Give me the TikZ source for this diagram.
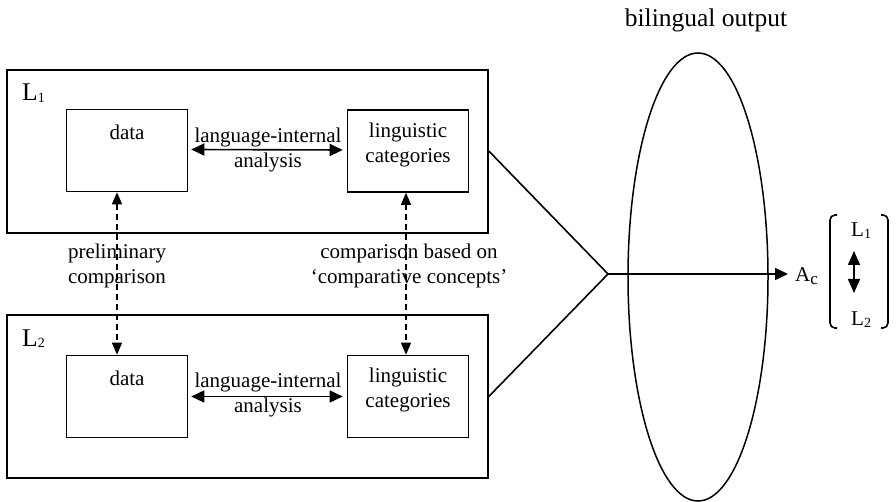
\documentclass[tikz,border=0pt]{standalone}
\usepackage{fontspec}
\setmainfont{Liberation Serif}
\usetikzlibrary{arrows.meta,shapes.geometric}
% letter with a small, slightly lowered index
\newcommand\lsub[1]{\raisebox{-1.5pt}{\fontsize{14}{14}\selectfont #1}}
\begin{document}
\begin{tikzpicture}[x=1pt,y=-1pt,
  every node/.style={font=\fontsize{21}{25}\selectfont, inner sep=0pt},
  biglabel/.style={font=\fontsize{25.5}{30}\selectfont},
  frame/.style={draw, line width=1.6pt, minimum width=481pt, minimum height=163pt},
  box/.style={draw, line width=1.6pt, minimum width=121pt, minimum height=82pt},
  txt/.style={align=center},
  solidarrow/.style={line width=1.6pt, {Triangle[length=13pt,width=12pt]}-{Triangle[length=13pt,width=12pt]}},
  dasharrow/.style={line width=1.4pt, dash pattern=on 6pt off 4pt,
    {Triangle[length=12pt,width=10pt]}-{Triangle[length=12pt,width=10pt]}},
  line/.style={line width=1.6pt}]
\useasboundingbox (0,0) rectangle (896,502);

% language 1
\node[frame] (f1) at (247.5,151.5) {};
\node[biglabel, anchor=base west] (l1) at (22,101) {L\lsub{1}};
\node[box] (d1) at (127,150.5) {};
\node[box] (c1) at (408,151) {};
\node (d1t) at (127,132) {data};
\node[txt] (c1t) at (408,145) {linguistic\\categories};
\node[txt] (a1t) at (268,150) {language-internal\\analysis};
\draw[solidarrow] ([xshift=3pt,yshift=1pt]d1.east) -- ([xshift=-4pt,yshift=1pt]c1.west);

% language 2
\node[frame] (f2) at (247.5,396.5) {};
\node[biglabel, anchor=base west] (l2) at (22,346) {L\lsub{2}};
\node[box] (d2) at (127,396.5) {};
\node[box] (c2) at (408,396.5) {};
\node (d2t) at (127,378) {data};
\node[txt] (c2t) at (408,390) {linguistic\\categories};
\node[txt] (a2t) at (268,395) {language-internal\\analysis};
\draw[solidarrow] ([xshift=3pt]d2.east) -- ([xshift=-4pt]c2.west);

% cross-linguistic comparison
\draw[dasharrow] ([xshift=-10pt]d1.south) -- ([xshift=-10pt]d2.north);
\draw[dasharrow] ([xshift=-2pt]c1.south) -- ([xshift=-2pt]c2.north);
\node[txt] (pc) at (117,266) {preliminary\\comparison};
\node[txt] (cc) at (409,266) {comparison based on\\‘comparative concepts’};

% bilingual output
\coordinate (apex) at (608,274);
\draw[line] ([yshift=0.5pt]f1.east) -- (apex) -- (f2.east);
\node[draw, ellipse, line width=1.5pt, minimum width=140pt, minimum height=448pt] (out) at (698,277) {};
\node[biglabel] (bo) at (706,20) {bilingual output};
\node[anchor=base west] (ac) at (795,282) {A\raisebox{-3pt}{\fontsize{17}{17}\selectfont c}};
\draw[line, -{Triangle[length=13pt,width=12pt]}, shorten >=7pt] (apex) -- (ac.west |- apex);

% alternation between the two languages
\node[anchor=base west] (b1) at (851,237) {L\lsub{1}};
\node[anchor=base west] (b2) at (851,326) {L\lsub{2}};
\draw[solidarrow, {Triangle[length=14pt,width=12pt]}-{Triangle[length=14pt,width=12pt]}] (854,251) -- (854,293);
\draw[line, rounded corners=5pt] (837,215) -- (830,215) -- (830,328) -- (837,328);
\draw[line, rounded corners=5pt] (881,215) -- (888,215) -- (888,328) -- (881,328);
\end{tikzpicture}
\end{document}
